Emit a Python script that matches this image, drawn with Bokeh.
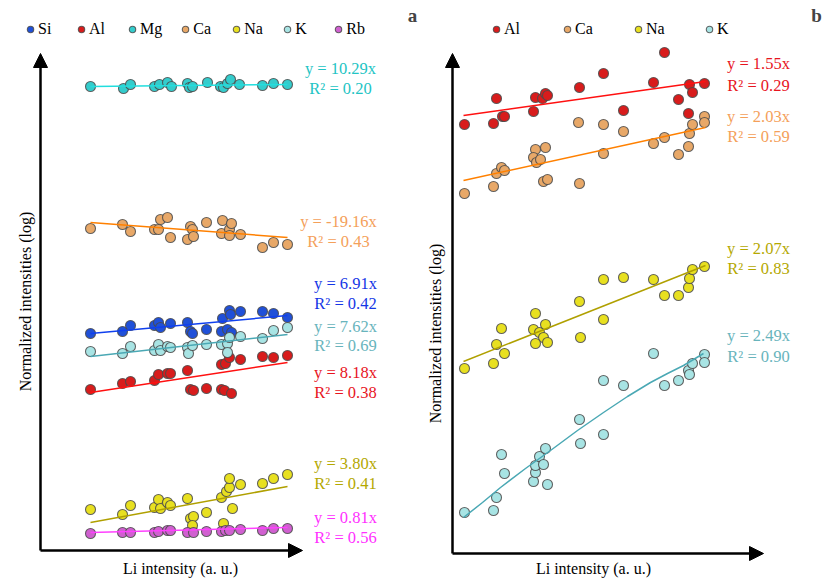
import math
from bokeh.plotting import figure
from bokeh.layouts import row
from bokeh.models import Range1d, Arrow, NormalHead, Label, Legend, LegendItem
from bokeh.embed import file_html
from bokeh.resources import INLINE

FONT = "Liberation Serif"

# ---------------- Panel a (Li intensity vs normalized log intensities, a.u.) ----------------
si_x = [50, 82, 90, 114, 118, 120, 130, 147, 150, 152, 166, 181, 182, 189, 190, 187, 191, 200, 222, 233, 247]
si_y = [217, 219, 225, 225, 228, 223, 227, 228, 219, 217, 221, 219, 232, 240, 236, 221, 218, 239, 239, 237, 233]
si_fit_x = [50, 247]
si_fit_y = [217, 235]

al_x = [50, 82, 90, 114, 118, 127, 130, 147, 150, 153, 166, 181, 184, 191, 181, 185, 189, 200, 222, 233, 247]
al_y = [161, 167, 169, 170, 176, 177, 177, 180, 161, 160, 162, 161, 160, 157, 186, 187, 193, 191, 194, 193, 195]
al_fit_x = [50, 247]
al_fit_y = [158, 188]

mg_x = [50, 83, 90, 114, 119, 127, 131, 147, 149, 152, 167, 180, 183, 187, 190, 199, 222, 233, 247]
mg_y = [464, 462, 466, 464, 466, 468, 464, 467, 463, 464, 468, 464, 463, 467, 471, 466, 465, 467, 466]
mg_fit_x = [50, 247]
mg_fit_y = [464, 466]

ca_x = [50, 82, 90, 114, 118, 120, 127, 130, 147, 150, 152, 153, 166, 181, 182, 189, 191, 189, 200, 222, 233, 247]
ca_y = [322, 326, 319, 321, 321, 331, 333, 313, 311, 324, 321, 314, 328, 317, 330, 321, 327, 315, 316, 303, 308, 306]
ca_fit_x = [50, 247]
ca_fit_y = [328, 313]

na_x = [50, 82, 90, 114, 118, 120, 127, 130, 147, 150, 153, 152, 166, 181, 186, 189, 189, 192, 183, 200, 222, 233, 247]
na_y = [41, 36, 45, 43, 51, 42, 48, 45, 52, 32, 34, 25, 38, 53, 59, 63, 72, 42, 27, 66, 67, 72, 76]
na_fit_x = [50, 247]
na_fit_y = [28, 64]

k_x = [50, 82, 90, 114, 118, 120, 127, 130, 147, 148, 152, 166, 181, 187, 189, 187, 200, 222, 233, 247]
k_y = [199, 197, 204, 200, 206, 200, 204, 203, 203, 197, 205, 206, 206, 207, 213, 198, 214, 212, 220, 223]
k_fit_x = [50, 247]
k_fit_y = [194, 216]

rb_x = [50, 82, 90, 114, 118, 127, 130, 147, 153, 166, 181, 185, 189, 200, 222, 233, 247]
rb_y = [17, 18, 18, 18, 19, 20, 20, 18, 18, 19, 19, 20, 20, 21, 20, 22, 22]
rb_fit_x = [50, 247]
rb_fit_y = [18, 23]

a_eq = ["y = 6.91x", "y = 8.18x", "y = 10.29x", "y = -19.16x", "y = 3.80x", "y = 7.62x", "y = 0.81x"]
a_r2 = ["R² = 0.42", "R² = 0.38", "R² = 0.20", "R² = 0.43", "R² = 0.41", "R² = 0.69", "R² = 0.56"]

# ---------------- Panel b ----------------
alb_x = [12, 41, 44, 50, 52, 81, 83, 90, 93, 95, 127, 151, 171, 201, 212, 226, 236, 237, 240, 252]
alb_y = [429, 430, 455, 437, 437, 442, 456, 455, 460, 458, 466, 480, 443, 471, 501, 454, 440, 469, 461, 470]
alb_fit_x = [11, 253]
alb_fit_y = [438, 472]

cab_x = [12, 41, 44, 49, 52, 83, 81, 84, 88, 93, 91, 95, 127, 126, 151, 151, 171, 201, 212, 226, 236, 237, 240, 252, 252]
cab_y = [360, 367, 380, 386, 383, 404, 396, 391, 394, 406, 372, 374, 370, 431, 429, 400, 422, 410, 416, 399, 407, 420, 429, 437, 431]
cab_fit_x = [11, 253]
cab_fit_y = [373, 426]

nab_x = [12, 41, 44, 52, 49, 81, 83, 87, 91, 93, 83, 95, 127, 128, 151, 151, 171, 201, 212, 226, 236, 237, 240, 252]
nab_y = [185, 190, 209, 200, 225, 224, 240, 221, 216, 229, 210, 211, 252, 216, 274, 234, 276, 274, 258, 258, 266, 275, 284, 287]
nab_fit_x = [11, 253]
nab_fit_y = [192, 288]

kb_x = [12, 41, 44, 49, 52, 81, 83, 83, 87, 91, 93, 95, 127, 128, 151, 151, 171, 201, 212, 226, 236, 237, 240, 252, 252]
kb_y = [41, 43, 56, 99, 80, 72, 81, 88, 97, 89, 105, 69, 134, 110, 173, 119, 168, 200, 168, 173, 183, 179, 190, 199, 191]
kb_fit_x = [11, 30, 48, 73, 98, 125, 151, 175, 198, 215, 231, 251]
kb_fit_y = [36, 51, 66, 85, 103, 123, 141, 157, 171, 180, 188, 200]

b_eq = ["y = 1.55x", "y = 2.03x", "y = 2.07x", "y = 2.49x"]
b_r2 = ["R² = 0.29", "R² = 0.59", "R² = 0.83", "R² = 0.90"]

X_TITLE = "Li intensity (a. u.)"
Y_TITLE = "Normalized intensities (log)"

# colours: (marker fill, fit line, text)
COL = {
    "Si": ("#2050d8", "#1040ee", "#1436e6"),
    "Al": ("#d81c1c", "#ff1010", "#e8141e"),
    "Mg": ("#34cccc", "#22dede", "#22c4c4"),
    "Ca": ("#e8a868", "#ff8000", "#f4a05a"),
    "Na": ("#e8e020", "#b0a000", "#b4a800"),
    "K":  ("#a8e4e4", "#4aa8b4", "#68b4bc"),
    "Rb": ("#d060d0", "#ff40ff", "#ff30ff"),
}

H = 581


def base_fig(width, xr, yr):
    p = figure(width=width, height=H, x_range=Range1d(*xr), y_range=Range1d(*yr),
               output_backend="svg", toolbar_location=None,
               x_axis_location=None, y_axis_location=None,
               min_border_left=0, min_border_right=0, min_border_top=0, min_border_bottom=0)
    p.grid.visible = False
    p.outline_line_color = None
    p.background_fill_color = "white"
    return p


def arrows(p, xtip, ytip):
    for (x1, y1) in [(xtip, 0), (0, ytip)]:
        p.add_layout(Arrow(end=NormalHead(size=14, fill_color="black", line_color="black", line_width=1),
                           x_start=0, y_start=0, x_end=x1, y_end=y1,
                           line_color="black", line_width=2.5))


def titles(p, xt, yt):
    p.add_layout(Label(x=xt[0], y=xt[1], text=X_TITLE, text_font=FONT, text_font_size="16px",
                       text_align="center", text_baseline="middle", text_color="black"))
    p.add_layout(Label(x=yt[0], y=yt[1], text=Y_TITLE, text_font=FONT, text_font_size="16px",
                       text_align="center", text_baseline="middle", text_color="black", angle=math.pi / 2))


def series(p, name, xs, ys, fx, fy):
    fill, line, _ = COL[name]
    r = p.scatter(xs, ys, size=10, fill_color=fill, line_color="#4a4a4a", line_width=1.1, line_alpha=0.85)
    p.line(fx, fy, line_color=line, line_width=1.5)
    return r


def eq_labels(p, name, x, y_eq, y_r2, eq, r2):
    c = COL[name][2]
    for t, y in [(eq, y_eq), (r2, y_r2)]:
        p.add_layout(Label(x=x, y=y, text=t, text_font=FONT, text_font_size="16.5px",
                           text_color=c, text_align="center", text_baseline="middle"))


def legend(p, rmap, names, loc, spacing):
    leg = Legend(items=[LegendItem(label=n, renderers=[rmap[n]]) for n in names],
                 orientation="horizontal", location=loc,
                 label_text_font=FONT, label_text_font_size="16px", label_text_color="black",
                 glyph_width=16, glyph_height=16, label_height=16, label_standoff=0,
                 spacing=spacing, padding=2, margin=0, border_line_color=None, background_fill_alpha=0)
    p.add_layout(leg)


# ---- panel a
pa = base_fig(422, (-40, 382), (550 - H, 550))
arrows(pa, 262, 497)
titles(pa, (140, -18), (-15, 249))
ra = {}
ra["Si"] = series(pa, "Si", si_x, si_y, si_fit_x, si_fit_y)
ra["Al"] = series(pa, "Al", al_x, al_y, al_fit_x, al_fit_y)
ra["Mg"] = series(pa, "Mg", mg_x, mg_y, mg_fit_x, mg_fit_y)
ra["Ca"] = series(pa, "Ca", ca_x, ca_y, ca_fit_x, ca_fit_y)
ra["Na"] = series(pa, "Na", na_x, na_y, na_fit_x, na_fit_y)
ra["K"] = series(pa, "K", k_x, k_y, k_fit_x, k_fit_y)
ra["Rb"] = series(pa, "Rb", rb_x, rb_y, rb_fit_x, rb_fit_y)

eq_labels(pa, "Si", 305, 267, 247, a_eq[0], a_r2[0])
eq_labels(pa, "Al", 305, 178, 158, a_eq[1], a_r2[1])
eq_labels(pa, "Mg", 300, 482, 462, a_eq[2], a_r2[2])
eq_labels(pa, "Ca", 298, 329, 309, a_eq[3], a_r2[3])
eq_labels(pa, "Na", 305, 87, 67, a_eq[4], a_r2[4])
eq_labels(pa, "K", 305, 224, 205, a_eq[5], a_r2[5])
eq_labels(pa, "Rb", 305, 33, 13, a_eq[6], a_r2[6])

legend(pa, ra, ["Si", "Al", "Mg", "Ca", "Na", "K", "Rb"], (22, H - 38), 15)
pa.add_layout(Label(x=372, y=535, text="a", text_font=FONT, text_font_size="19px", text_font_style="bold",
                    text_align="center", text_baseline="middle"))

# ---- panel b
pb = base_fig(403, (-30, 373), (553 - H, 553))
arrows(pb, 311, 500)
titles(pb, (141, -15), (-17, 220))
rb = {}
rb["Al"] = series(pb, "Al", alb_x, alb_y, alb_fit_x, alb_fit_y)
rb["Ca"] = series(pb, "Ca", cab_x, cab_y, cab_fit_x, cab_fit_y)
rb["Na"] = series(pb, "Na", nab_x, nab_y, nab_fit_x, nab_fit_y)
rb["K"] = series(pb, "K", kb_x, kb_y, kb_fit_x, kb_fit_y)

eq_labels(pb, "Al", 306, 490, 468, b_eq[0], b_r2[0])
eq_labels(pb, "Ca", 306, 437, 417, b_eq[1], b_r2[1])
eq_labels(pb, "Na", 306, 305, 285, b_eq[2], b_r2[2])
eq_labels(pb, "K", 306, 218, 197, b_eq[3], b_r2[3])

legend(pb, rb, ["Al", "Ca", "Na", "K"], (66, H - 38), 35)
pb.add_layout(Label(x=364, y=538, text="b", text_font=FONT, text_font_size="19px", text_font_style="bold",
                    text_align="center", text_baseline="middle"))

layout = row(pa, pb)
open("out.html", "w").write(file_html(layout, INLINE))
